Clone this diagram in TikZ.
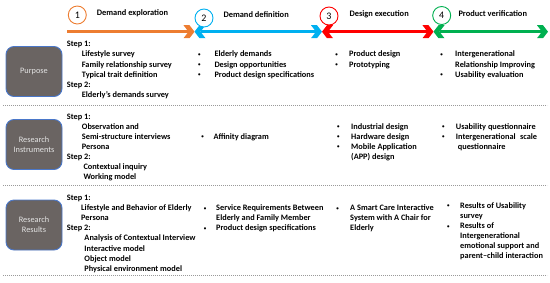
\documentclass[tikz,border=0pt]{standalone}
\usepackage{fontspec}
\setmainfont{Carlito}
\definecolor{arrOrange}{HTML}{ED7D31}
\definecolor{arrBlue}{HTML}{00B0F0}
\definecolor{arrRed}{HTML}{FF0000}
\definecolor{arrGreen}{HTML}{00B050}
\definecolor{boxgray}{HTML}{6A6462}
\definecolor{boxblue}{HTML}{4A77C9}
\definecolor{boxtext}{HTML}{E4E4E4}
\definecolor{sepgray}{HTML}{9A9A9A}
\begin{document}
\begin{tikzpicture}[x=1pt,y=-1pt,
  txt/.style={font=\fontsize{8.3}{10}\selectfont\bfseries, inner sep=0pt, anchor=base west},
  bul/.style={font=\fontsize{6}{7}\selectfont, inner sep=0pt, anchor=base},
  hdr/.style={font=\fontsize{8.4}{10}\selectfont\bfseries, inner sep=0pt, anchor=base west},
  num/.style={circle, draw=#1, line width=0.9pt, fill=white, minimum size=18pt, inner sep=0pt, font=\fontsize{10}{12}\selectfont},
  rbox/.style={draw=boxblue, line width=0.9pt, fill=boxgray, rounded corners=8pt, minimum width=56pt, minimum height=50pt, text=boxtext, align=center, font=\fontsize{8.3}{10.2}\selectfont},
  sep/.style={draw=sepgray, line width=0.7pt, dash pattern=on 0.8pt off 1.2pt},
  tl/.style={line width=3pt, draw=#1},
  chevR/.pic={\fill (0,0) -- (-5,-6.5) -- (-11,-6.5) -- (-6,0) -- (-11,6.5) -- (-5,6.5) -- cycle;},
  chevL/.pic={\fill (0,0) -- (5,-6.5) -- (11,-6.5) -- (6,0) -- (11,6.5) -- (5,6.5) -- cycle;},
]
\useasboundingbox (0,0) rectangle (550,282);
% timeline
\coordinate (o0) at (67,31.7);
\coordinate (j1) at (194.5,31.7);
\coordinate (j2) at (322,31.7);
\coordinate (j3) at (433.5,31.7);
\coordinate (e4) at (548,31.7);
\draw[tl=arrOrange, shorten >=6pt] (o0) -- (j1);
\draw[tl=arrBlue, shorten <=6pt, shorten >=6pt] (j1) -- (j2);
\draw[tl=arrRed, shorten <=6pt, shorten >=6pt] (j2) -- (j3);
\draw[tl=arrGreen, shorten <=6pt, shorten >=6pt] (j3) -- (e4);
\pic[color=arrOrange] at (j1) {chevR};
\pic[color=arrBlue] at (j1) {chevL};
\pic[color=arrBlue] at (j2) {chevR};
\pic[color=arrRed] at (j2) {chevL};
\pic[color=arrRed] at (j3) {chevR};
\pic[color=arrGreen] at (j3) {chevL};
\pic[color=arrGreen] at (e4) {chevR};
% phase numbers and titles
\node[num=arrOrange] (c1) at (77.3,15) {1};
\node[num=arrBlue] (c2) at (204,18) {2};
\node[num=arrRed] (c3) at (329,16) {3};
\node[num=arrGreen] (c4) at (441.7,15.5) {4};
\node[hdr] (h1) at (96.7,15.5) {Demand exploration};
\node[hdr] (h2) at (223.3,17.5) {Demand definition};
\node[hdr] (h3) at (349.3,16.5) {Design execution};
\node[hdr] (h4) at (458.3,16.5) {Product verification};
% row boxes
\node[rbox] (b1) at (34,71.5) {Purpose};
\node[rbox] (b2) at (34,144.5) {Research\\Instruments};
\node[rbox] (b3) at (34,225) {Research\\Results};
% separators
\coordinate (s1a) at (3,105); \coordinate (s1b) at (547,105);
\coordinate (s2a) at (3,185); \coordinate (s2b) at (547,185);
\coordinate (s3a) at (3,275); \coordinate (s3b) at (547,275);
\draw[sep] (s1a) -- (s1b);
\draw[sep] (s2a) -- (s2b);
\draw[sep] (s3a) -- (s3b);
% row 1 texts
\foreach \x/\y/\t [count=\i] in {
  66.7/46.8/{Step 1:}, 81.7/56.9/{Lifestyle survey}, 81.7/67.0/{Family relationship survey},
  81.7/77.1/{Typical trait definition}, 66.7/87.2/{Step 2:}, 81.7/97.3/{Elderly’s demands survey},
  214.3/56.9/{Elderly demands}, 214.3/67.0/{Design opportunities}, 214.3/77.1/{Product design specifications},
  349/56.9/{Product design}, 349/67.0/{Prototyping},
  455/56.9/{Intergenerational}, 455/67.0/{Relationship Improving}, 455/77.1/{Usability evaluation}}
  \node[txt] (ra\i) at (\x,\y) {\t};
\foreach \x/\y [count=\i] in {199.3/56.9, 199.3/67.0, 199.3/77.1, 336.7/56.9, 336.7/67.0, 441.7/56.9, 441.7/77.1}
  \node[bul] (rab\i) at (\x,\y-0.6) {•};
% row 2 texts
\foreach \x/\y/\t [count=\i] in {
  66.7/119/{Step 1:}, 81.7/129.1/{Observation and}, 81.7/139.2/{Semi-structure interviews},
  81.7/149.3/{Persona}, 66.7/159.4/{Step 2:}, 83.3/169.5/{Contextual inquiry}, 83.3/179.6/{Working model},
  213.3/139.2/{Affinity diagram},
  351/129.1/{Industrial design}, 351/139.2/{Hardware design}, 351/149.3/{Mobile Application}, 351/159.4/{(APP) design},
  455.7/129.1/{Usability questionnaire}, 455.7/139.2/{Intergenerational\hspace{2.5pt} scale}, 457.7/149.3/{questionnaire}}
  \node[txt] (rb\i) at (\x,\y) {\t};
\foreach \x/\y [count=\i] in {202.7/139.2, 338.3/129.1, 338.3/139.2, 338.3/149.3, 443.3/129.1, 443.3/139.2}
  \node[bul] (rbb\i) at (\x,\y-0.6) {•};
% row 3 texts
\foreach \x/\y/\t [count=\i] in {
  66.7/200.5/{Step 1:}, 81/210.6/{Lifestyle and Behavior of Elderly}, 81/220.7/{Persona},
  66.7/230.8/{Step 2:}, 84.3/240.9/{Analysis of Contextual Interview}, 84.3/251/{Interactive model},
  84.3/261.1/{Object model}, 84.3/271.2/{Physical environment model},
  216/210.6/{Service Requirements Between}, 216/220.7/{Elderly and Family Member}, 216/230.8/{Product design specifications},
  350/210.6/{A Smart Care Interactive}, 350/220.7/{System with A Chair for}, 350/230.8/{Elderly},
  460/208.4/{Results of Usability}, 460/218.5/{survey}, 460/228.6/{Results of}, 460/238.7/{Intergenerational},
  460/248.8/{emotional support and}, 460/258.9/{parent–child interaction}}
  \node[txt] (rc\i) at (\x,\y) {\t};
\foreach \x/\y [count=\i] in {205/210.6, 205/230.8, 337.7/210.6, 448.3/208.4, 448.3/228.6}
  \node[bul] (rcb\i) at (\x,\y-0.6) {•};
\end{tikzpicture}
\end{document}
